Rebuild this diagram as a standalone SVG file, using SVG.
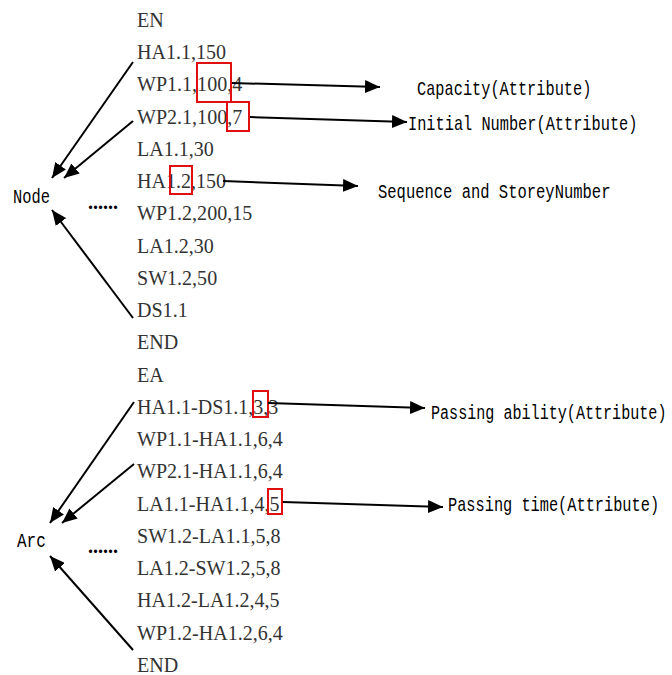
<svg xmlns="http://www.w3.org/2000/svg" width="672" height="675" viewBox="0 0 672 675">
<style>
.t{font-family:"Liberation Serif","Times New Roman",serif;font-size:21px;fill:#333}
.m{font-family:"Liberation Mono","DejaVu Sans Mono",monospace;font-size:15.3px;fill:#000}
.d{font-family:"Liberation Serif",serif;font-size:20px;font-weight:bold;fill:#000}
.a{stroke:#000;stroke-width:2;fill:none;marker-end:url(#ah)}
.r{fill:none;stroke:#e01010;stroke-width:2}
</style>
<defs>
<marker id="ah" markerUnits="userSpaceOnUse" markerWidth="16" markerHeight="13" refX="15" refY="6.5" orient="auto">
<path d="M0,0 L15,6.5 L0,13 z" fill="#000"/>
</marker>
</defs>
<rect width="672" height="675" fill="#fff"/>
<g id="list" transform="translate(137 0) scale(0.955 1)">
<text class="t" x="0" y="27">EN</text>
<text class="t" x="0" y="59.25">HA1.1,150</text>
<text class="t" x="0" y="91.5">WP1.1,100,4</text>
<text class="t" x="0" y="123.75">WP2.1,100,7</text>
<text class="t" x="0" y="156">LA1.1,30</text>
<text class="t" x="0" y="188.25">HA1.2,150</text>
<text class="t" x="0" y="220.5">WP1.2,200,15</text>
<text class="t" x="0" y="252.75">LA1.2,30</text>
<text class="t" x="0" y="285">SW1.2,50</text>
<text class="t" x="0" y="317.25">DS1.1</text>
<text class="t" x="0" y="349.5">END</text>
<text class="t" x="0" y="381.75">EA</text>
<text class="t" x="0" y="414">HA1.1-DS1.1,3,3</text>
<text class="t" x="0" y="446.25">WP1.1-HA1.1,6,4</text>
<text class="t" x="0" y="478.5">WP2.1-HA1.1,6,4</text>
<text class="t" x="0" y="510.75">LA1.1-HA1.1,4,5</text>
<text class="t" x="0" y="543">SW1.2-LA1.1,5,8</text>
<text class="t" x="0" y="575.25">LA1.2-SW1.2,5,8</text>
<text class="t" x="0" y="607.5">HA1.2-LA1.2,4,5</text>
<text class="t" x="0" y="639.75">WP1.2-HA1.2,6,4</text>
<text class="t" x="0" y="672">END</text>
</g>
<g id="highlights">
<rect class="r" x="197" y="63" width="34" height="39"/>
<rect class="r" x="227" y="102" width="22" height="29"/>
<rect class="r" x="170" y="166" width="22" height="28"/>
<rect class="r" x="253" y="391" width="15" height="26"/>
<rect class="r" x="268" y="489" width="14" height="25"/>
</g>
<g id="node">
<text class="m" transform="translate(13 203) scale(1 1.3)" x="0" y="0" style="font-size:15.4px">Node</text>
<text class="d" x="88" y="209">......</text>
</g>
<g id="arc">
<text class="m" transform="translate(17 547) scale(1 1.3)" x="0" y="0" style="font-size:16px">Arc</text>
<text class="d" x="88" y="553">......</text>
</g>
<g id="labels">
<text id="capacity" class="m" transform="translate(417 95) scale(1 1.3)" x="0" y="0">Capacity(Attribute)</text>
<text id="initial" class="m" transform="translate(408 130) scale(1 1.3)" x="0" y="0">Initial Number(Attribute)</text>
<text id="sequence" class="m" transform="translate(378 198) scale(1 1.3)" x="0" y="0" style="font-size:15.5px">Sequence and StoreyNumber</text>
<text id="ability" class="m" transform="translate(431 419) scale(1 1.3)" x="0" y="0" style="font-size:15.1px">Passing ability(Attribute)</text>
<text id="time" class="m" transform="translate(448 511) scale(1 1.3)" x="0" y="0">Passing time(Attribute)</text>
</g>
<g id="connectors">
<line class="a" x1="133" y1="62" x2="52" y2="178"/>
<line class="a" x1="133" y1="121" x2="64" y2="178"/>
<line class="a" x1="133" y1="318" x2="52" y2="210"/>
<line class="a" x1="134" y1="402" x2="50" y2="523"/>
<line class="a" x1="134" y1="464" x2="62" y2="523"/>
<line class="a" x1="133" y1="650" x2="50" y2="556"/>
<line class="a" x1="232" y1="83" x2="380" y2="87"/>
<line class="a" x1="250" y1="117" x2="407" y2="122"/>
<line class="a" x1="223" y1="181" x2="358" y2="186"/>
<line class="a" x1="268" y1="403" x2="425" y2="408"/>
<line class="a" x1="283" y1="502" x2="443" y2="507"/>
</g>
</svg>
